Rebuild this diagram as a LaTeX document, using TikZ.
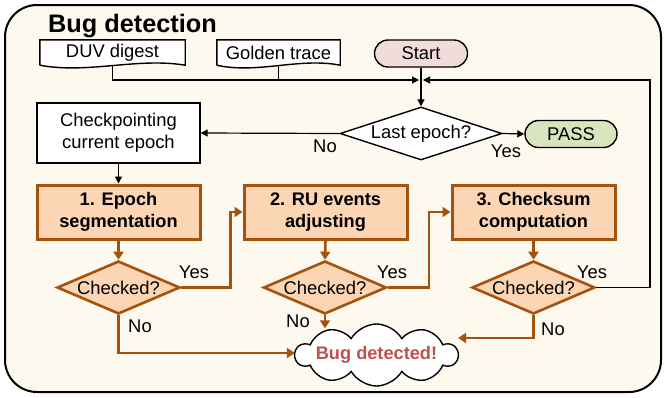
\documentclass[tikz,border=0pt]{standalone}
\usepackage{fontspec}
\setmainfont{Liberation Sans}
\usetikzlibrary{shapes.geometric,shapes.symbols,arrows.meta,calc}

\definecolor{cream}{HTML}{FEF9EF}
\definecolor{peach}{HTML}{FCD5B5}
\definecolor{rust}{HTML}{A5520F}
\definecolor{startpink}{HTML}{F2DCDB}
\definecolor{passgreen}{HTML}{D7E4BD}
\definecolor{alertred}{HTML}{C0504D}

\tikzset{
  txt/.style={font=\fontsize{18.4}{22}\selectfont},
  flowline/.style={line width=1.2pt, black},
  flowarrow/.style={flowline, -{Triangle[length=7pt,width=7pt]}},
  rustline/.style={line width=2.6pt, rust},
  rustarrow/.style={rustline, -{Triangle[length=8pt,width=10pt]}},
  docbox/.style={txt, inner sep=0pt, minimum height=25pt},
  terminal/.style={txt, draw, line width=1.4pt, rounded corners=13.5pt,
    inner sep=0pt, minimum height=27pt},
  plainbox/.style={txt, draw, line width=1.4pt, fill=white, align=center,
    minimum width=163pt, minimum height=60pt, inner sep=0pt},
  stepbox/.style={txt, font=\fontsize{18.2}{22}\selectfont\bfseries, draw=rust,
    line width=3pt, fill=peach, align=center,
    minimum width=163pt, minimum height=54pt, inner sep=0pt},
  testdiamond/.style={txt, diamond, draw=rust, line width=2.6pt, fill=peach,
    inner sep=0pt, aspect=2.32, minimum width=123pt, minimum height=53pt},
  lbl/.style={txt, inner sep=0pt},
}

\begin{document}
\begin{tikzpicture}[x=1pt, y=-1pt]
  \useasboundingbox (0,0) rectangle (665,397);

  % outer panel
  \draw[line width=2pt, fill=cream, rounded corners=32pt] (5,5) rectangle (661,392);
  \node[anchor=base west, inner sep=0pt, font=\fontsize{25.3}{30}\selectfont\bfseries]
    (title) at (48,32) {Bug detection};

  % input documents
  \node[docbox, minimum width=145pt] (duv) at (112.5,52.5) {DUV digest};
  \node[docbox, minimum width=123pt] (gold) at (278.5,52.5) {Golden trace};
  \foreach \d in {duv, gold}{
    \draw[line width=1.4pt, fill=white]
      (\d.south west) -- (\d.north west) -- (\d.north east) -- (\d.south east)
      .. controls ($(\d.south east)!0.33!(\d.south west)+(0,-8)$)
          and ($(\d.south east)!0.67!(\d.south west)+(0,9)$) .. (\d.south west);
  }
  \node[docbox, minimum width=145pt] at (duv) {DUV digest};
  \node[docbox, minimum width=123pt] at (gold) {Golden trace};

  % start / end terminals
  \node[terminal, fill=startpink, minimum width=93pt] (start) at (421,53.5) {Start};
  \node[terminal, fill=passgreen, minimum width=92pt] (pass) at (571,134) {PASS};

  % decision on last epoch
  \node[txt, diamond, draw, line width=1.4pt, fill=white, inner sep=0pt,
    aspect=3.06, minimum width=162pt, minimum height=53pt] (last) at (421,133.5) {Last epoch?};

  \node[plainbox] (ckpt) at (118.5,133) {Checkpointing\\current epoch};

  % the three checking steps
  \node[stepbox] (s1) at (118.5,212) {1. Epoch\\segmentation};
  \node[stepbox] (s2) at (325.5,212) {2. RU events\\adjusting};
  \node[stepbox] (s3) at (533.5,212) {3. Checksum\\computation};

  \node[testdiamond] (c1) at (118.5,287.5) {Checked?};
  \node[testdiamond] (c2) at (325,287.5) {Checked?};
  \node[testdiamond] (c3) at (533.5,287.5) {Checked?};

  % failure outcome
  \node[cloud, draw, line width=1.4pt, fill=white, cloud puffs=10, cloud puff arc=120,
    aspect=2.7, inner sep=0pt, minimum width=162pt, minimum height=62pt] (bug) at (376.5,355) {};
  \node[inner sep=0pt, text=alertred, font=\fontsize{18.2}{22}\selectfont\bfseries] (bugtxt) at (bug) {Bug detected!};

  % junction above the decision
  \coordinate (j) at (start.south |- 0,80);
  \coordinate (loop) at (650,80);

  % top flow
  \draw[flowarrow] (duv.south) |- ([xshift=-2pt]j);
  \draw[flowline] (gold.south) -- (gold.south |- j);
  \draw[flowarrow] (start.south) -- (last.north);
  \draw[flowarrow] (c3.east) -| (loop) -- ([xshift=2pt]j);
  \draw[flowarrow] (last.east) -- (pass.west);
  \draw[flowarrow] (last.west) -- (ckpt.east);
  \draw[flowarrow] (ckpt.south) -- (s1.north);

  % step flow
  \draw[rustarrow] (s1.south) -- (c1.north);
  \draw[rustarrow] (s2.south) -- (c2.north);
  \draw[rustarrow] (s3.south) -- (c3.north);
  \draw[rustarrow] (c1.east) -- ++(49,0) |- (s2.west);
  \draw[rustarrow] (c2.east) -- ++(41,0) |- (s3.west);
  \draw[rustarrow] (c1.south) |- ([xshift=1pt,yshift=2pt]bug.west);
  \draw[rustarrow] (c2.south) -- ($(c2.south |- bug.north)+(0,5)$);
  \draw[rustarrow] (c3.south) |- ([xshift=-1pt,yshift=17pt]bug.east);

  % branch labels
  \node[lbl] (lno) at (325,146) {No};
  \node[lbl] (lyes) at (506,151) {Yes};
  \node[lbl] (y1) at (194,272) {Yes};
  \node[lbl] (n1) at (140,326) {No};
  \node[lbl] (y2) at (392,272) {Yes};
  \node[lbl] (n2) at (298,321) {No};
  \node[lbl] (y3) at (592,272) {Yes};
  \node[lbl] (n3) at (553,329) {No};
\end{tikzpicture}
\end{document}
